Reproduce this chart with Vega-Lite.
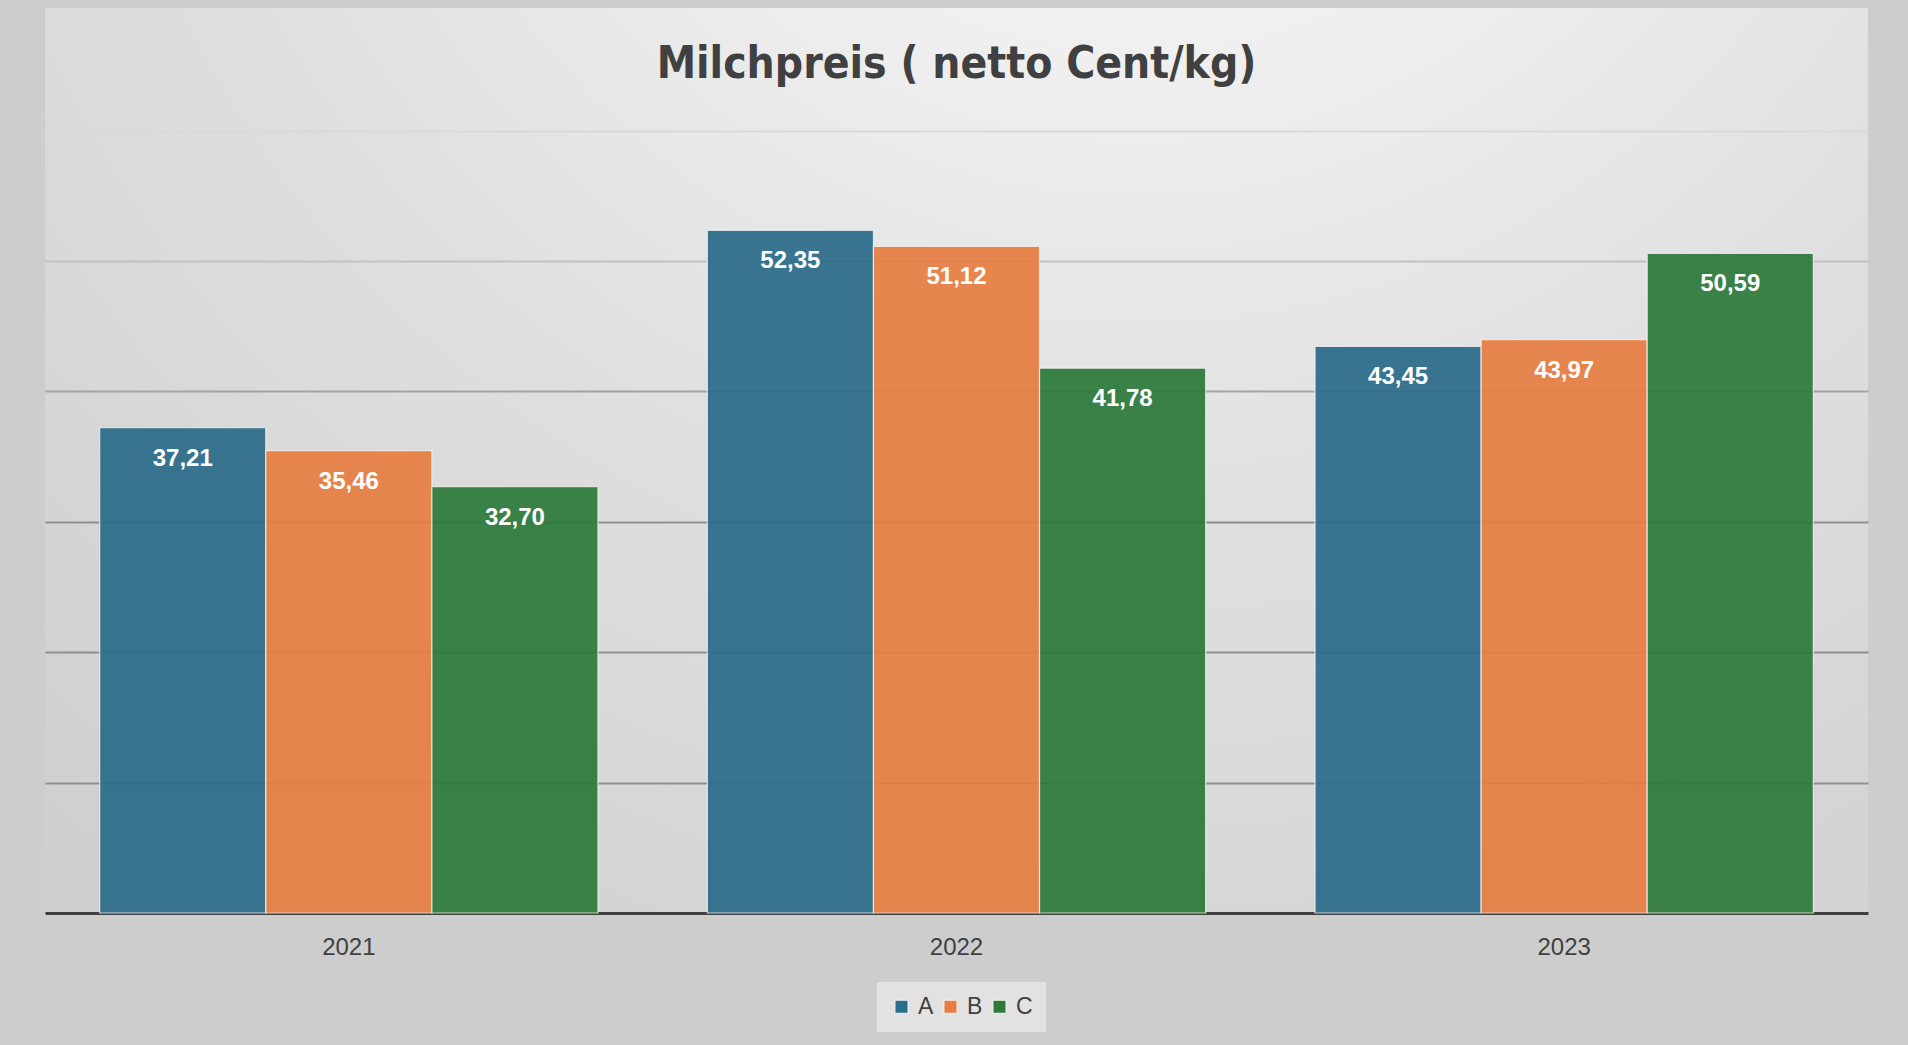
{
  "$schema": "https://vega.github.io/schema/vega-lite/v6.json",
  "width": 1823,
  "height": 905,
  "autosize": {"type": "none"},
  "padding": {"left": 45, "top": 8, "right": 40, "bottom": 132},
  "background": "#cdcdcd",
  "config": {
    "locale": {"number": {"decimal": ",", "thousands": ".", "grouping": [3], "currency": ["", " €"]}},
    "font": "Liberation Sans",
    "view": {
      "stroke": null,
      "fill": {
        "gradient": "radial",
        "x1": 0.6, "y1": 0.0, "r1": 0,
        "x2": 0.6, "y2": 0.0, "r2": 0.95,
        "stops": [
          {"offset": 0, "color": "#fdfdfd"},
          {"offset": 0.25, "color": "#f2f2f2"},
          {"offset": 0.55, "color": "#e0e0e0"},
          {"offset": 1, "color": "#cecece"}
        ]
      }
    }
  },
  "title": {
    "text": "Milchpreis ( netto Cent/kg)",
    "font": "DejaVu Sans Condensed, Liberation Sans Narrow, Liberation Sans",
    "fontSize": 44,
    "fontWeight": "bold",
    "color": "#404040",
    "anchor": "middle",
    "baseline": "alphabetic",
    "offset": -74,
    "dy": 40
  },
  "data": {
    "values": [
      {"Jahr": "2021", "Serie": "A", "Wert": 37.21},
      {"Jahr": "2021", "Serie": "B", "Wert": 35.46},
      {"Jahr": "2021", "Serie": "C", "Wert": 32.70},
      {"Jahr": "2022", "Serie": "A", "Wert": 52.35},
      {"Jahr": "2022", "Serie": "B", "Wert": 51.12},
      {"Jahr": "2022", "Serie": "C", "Wert": 41.78},
      {"Jahr": "2023", "Serie": "A", "Wert": 43.45},
      {"Jahr": "2023", "Serie": "B", "Wert": 43.97},
      {"Jahr": "2023", "Serie": "C", "Wert": 50.59}
    ]
  },
  "encoding": {
    "x": {
      "field": "Jahr",
      "type": "nominal",
      "scale": {"paddingInner": 0.18, "paddingOuter": 0.09},
      "axis": {
        "title": null,
        "labelAngle": 0,
        "ticks": false,
        "grid": false,
        "domainColor": "#404040",
        "domainWidth": 3,
        "labelFontSize": 24,
        "labelColor": "#404040",
        "labelPadding": 22
      }
    },
    "xOffset": {"field": "Serie", "type": "nominal"},
    "y": {
      "field": "Wert",
      "type": "quantitative",
      "scale": {"domain": [0, 69.4], "nice": false, "zero": true},
      "axis": {
        "title": null,
        "values": [10, 20, 30, 40, 50, 60],
        "labels": false,
        "ticks": false,
        "domain": false,
        "grid": true,
        "gridColor": {
          "condition": [
            {"test": "datum.value >= 60", "value": "#d9d9d9"},
            {"test": "datum.value >= 50", "value": "#c2c2c2"},
            {"test": "datum.value >= 40", "value": "#a3a3a3"}
          ],
          "value": "#8f8f8f"
        },
        "gridWidth": 2
      }
    }
  },
  "layer": [
    {
      "mark": {"type": "bar", "fillOpacity": 0.93, "stroke": "#f2f2f2", "strokeWidth": 1.2, "strokeOpacity": 0.8},
      "encoding": {
        "color": {
          "field": "Serie",
          "type": "nominal",
          "scale": {"domain": ["A", "B", "C"], "range": ["#2b6c8a", "#e67d43", "#2d7a3b"]},
          "legend": {
            "orient": "none",
            "legendX": 832,
            "legendY": 974,
            "direction": "horizontal",
            "title": null,
            "symbolType": "square",
            "symbolSize": 170,
            "symbolStrokeWidth": 1,
            "labelFontSize": 23,
            "labelColor": "#404040",
            "fillColor": "#e2e2e2",
            "padding": 13,
            "columnPadding": 5,
            "labelOffset": 5
          }
        }
      }
    },
    {
      "mark": {"type": "text", "dy": 31, "baseline": "middle", "align": "center", "color": "white", "fontWeight": "bold", "fontSize": 24},
      "encoding": {
        "text": {"field": "Wert", "type": "quantitative", "format": ".2f"}
      }
    }
  ]
}
